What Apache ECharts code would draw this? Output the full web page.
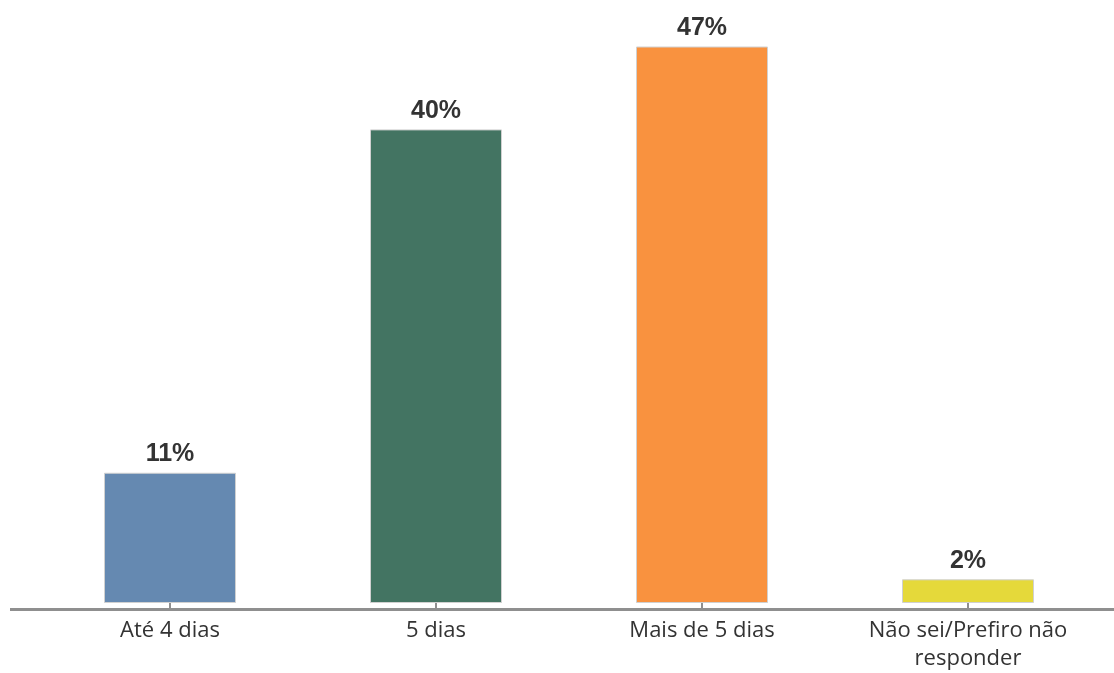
<!DOCTYPE html>
<html>
<head>
<meta charset="utf-8">
<script src="https://cdn.jsdelivr.net/npm/echarts@6/dist/echarts.min.js"></script>
<style>html,body{margin:0;padding:0;background:#fff}#c{width:1114px;height:673px}</style>
</head>
<body>
<div id="c"></div>
<script>
const categories = ['Até 4 dias', '5 dias', 'Mais de 5 dias', 'Não sei/Prefiro não\nresponder'];
const values = [11, 40, 47, 2];
const colors = ['#6589B1', '#437462', '#F9923F', '#E5D93A'];

const chart = echarts.init(document.getElementById('c'), null, {renderer: 'canvas'});
chart.setOption({
  animation: false,
  grid: {left: 37, right: 13, top: 11, bottom: 68},
  graphic: [{
    type: 'line', z: 10,
    shape: {x1: 10, y1: 609.5, x2: 1114, y2: 609.5},
    style: {stroke: '#8f8f8f', lineWidth: 3}
  }],
  xAxis: {
    type: 'category',
    data: categories,
    offset: 5,
    axisLine: {show: false},
    axisTick: {show: true, alignWithLabel: true, length: 6, lineStyle: {color: '#8f8f8f', width: 2}},
    axisLabel: {color: '#333', fontSize: 22, fontFamily: 'Open Sans', lineHeight: 28, margin: 9}
  },
  yAxis: {
    type: 'value', min: 0, max: 50, show: false, splitLine: {show: false}
  },
  series: [{
    type: 'bar',
    barWidth: 132,
    data: values.map((v, i) => ({value: v, itemStyle: {color: colors[i]}})),
    itemStyle: {borderColor: '#d0d0d0', borderWidth: 1},
    label: {
      show: true, position: 'top', distance: 6,
      formatter: '{c}%', color: '#333', fontSize: 25, fontWeight: 'bold',
      fontFamily: 'Liberation Sans'
    }
  }]
});
</script>
</body>
</html>
